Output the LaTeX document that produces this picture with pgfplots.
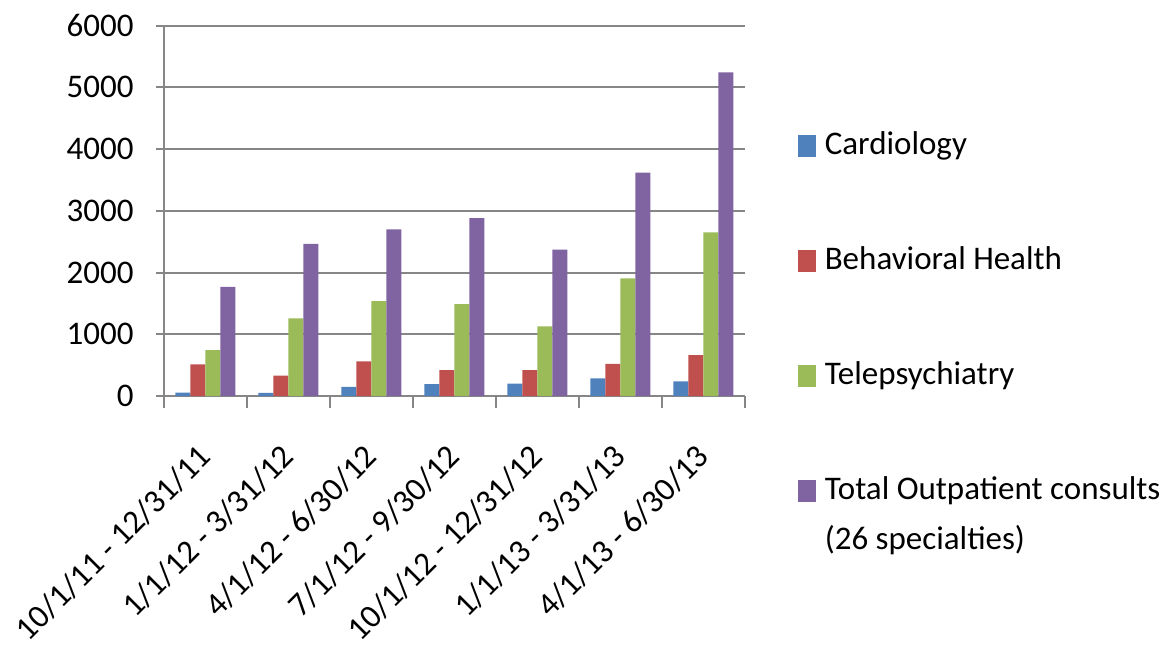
\documentclass[border=0pt]{standalone}
\usepackage{pgfplots}
\pgfplotsset{compat=1.18}
\usepackage{fontspec}
\setmainfont{Carlito}
\definecolor{cblue}{HTML}{4F81BD}
\definecolor{cred}{HTML}{C0504D}
\definecolor{cgreen}{HTML}{9BBB59}
\definecolor{cpurple}{HTML}{8064A2}
\definecolor{cgray}{HTML}{868686}
\begin{document}
\begin{tikzpicture}
\begin{axis}[
  at={(82pt,132.5pt)}, anchor=south west,
  scale only axis, width=290.5pt, height=185.25pt,
  xmin=-0.5, xmax=6.5, ymin=0, ymax=6000,
  ybar=0pt, bar width=7.5pt,
  axis lines*=left,
  axis line style={draw=cgray, line width=1pt},
  ymajorgrids, grid style={draw=cgray, line width=1pt},
  ytick={0,1000,...,6000},
  xtick={0,...,6},
  xticklabels={10/1/11 - 12/31/11, 1/1/12 - 3/31/12, 4/1/12 - 6/30/12, 7/1/12 - 9/30/12, 10/1/12 - 12/31/12, 1/1/13 - 3/31/13, 4/1/13 - 6/30/13},
  minor xtick={-0.5,0.5,...,6.5},
  tick align=outside,
  major x tick style={draw=none},
  minor x tick style={draw=cgray, line width=1pt},
  major y tick style={draw=cgray, line width=1pt},
  minor tick length=6pt,
  major tick length=4pt,
  /pgf/number format/assume math mode=true,
  /pgf/number format/1000 sep={},
  every tick label/.append style={font=\fontsize{16.5}{19.8}\selectfont, text=black},
  yticklabel style={inner sep=0pt, xshift=-11pt},
  xticklabel style={inner sep=0pt, xshift=-4.5pt, yshift=-19pt, rotate=45, anchor=north east},
  legend style={at={(1,1)}, anchor=north west, xshift=26.5pt, yshift=-52.5pt,
    draw=none, fill=none, inner sep=0pt, row sep=41.5pt,
    font=\fontsize{16.5}{19.8}\selectfont,
    nodes={anchor=base west, inner sep=0pt, text height=12pt, text depth=4pt},
    /tikz/every odd column/.append style={column sep=4.5pt}},
  legend cell align=left,
  legend image code/.code={\fill[#1] (0pt,-1pt) rectangle (8.7pt,10pt);},
]
\addplot[fill=cblue, draw=none] coordinates {(0,55) (1,50) (2,146) (3,194) (4,199) (5,286) (6,237)};
\addplot[fill=cred, draw=none] coordinates {(0,514) (1,331) (2,562) (3,421) (4,420) (5,522) (6,662)};
\addplot[fill=cgreen, draw=none] coordinates {(0,745) (1,1259) (2,1535) (3,1486) (4,1126) (5,1906) (6,2649)};
\addplot[fill=cpurple, draw=none] coordinates {(0,1767) (1,2463) (2,2697) (3,2881) (4,2370) (5,3619) (6,5240)};
\addlegendentry{Cardiology}
\addlegendentry{Behavioral Health}
\addlegendentry{Telepsychiatry}
\addlegendentry{\begin{tabular}[t]{@{}l@{}}Total Outpatient consults\\[5pt](26 specialties)\end{tabular}}
\end{axis}
\pgfresetboundingbox
\path (0,0) rectangle (587.5pt,330.5pt);
\end{tikzpicture}
\end{document}
